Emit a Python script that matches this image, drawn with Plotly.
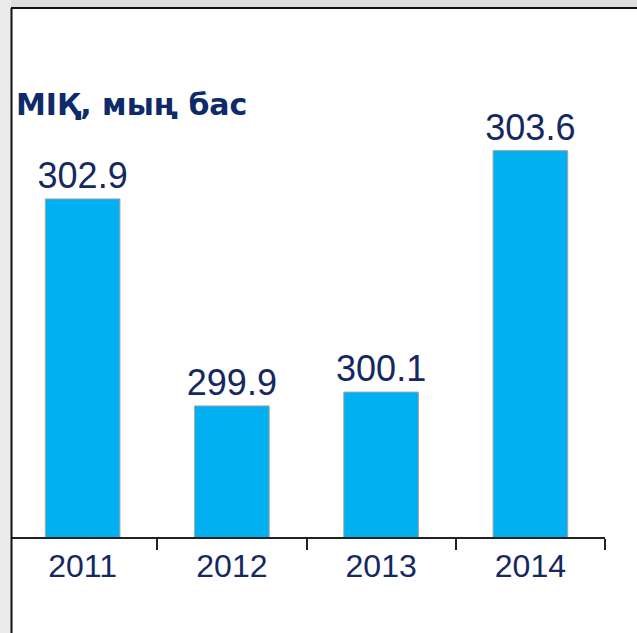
import plotly.graph_objects as go

years = ["2011", "2012", "2013", "2014"]
values = [302.9, 299.9, 300.1, 303.6]
value_labels = ["302.9", "299.9", "300.1", "303.6"]
title_text = "МІҚ, мың бас"

W, H = 637, 633
L, R, T, B = 8, 32, 60, 96
pw, ph = W - L - R, H - T - B

def px(x):
    return (x - L) / pw

def py(y):
    return (H - B - y) / ph

font_family = "Liberation Sans, Arial, sans-serif"
navy = "#15285f"

fig = go.Figure(go.Bar(
    x=years, y=values,
    text=value_labels, textposition="outside",
    textfont=dict(size=36, color=navy, family=font_family),
    constraintext="none",
    marker=dict(color="#00b0f0", line=dict(color="#a6a6a6", width=1)),
    cliponaxis=False,
))

shapes = [
    dict(type="rect", xref="paper", yref="paper", x0=px(0), x1=px(W), y0=py(0), y1=py(7),
         fillcolor="#dedede", line=dict(width=0), layer="above"),
    dict(type="rect", xref="paper", yref="paper", x0=px(0), x1=px(11), y0=py(0), y1=py(H),
         fillcolor="#ebebeb", line=dict(width=0), layer="above"),
    dict(type="line", xref="paper", yref="paper", x0=px(11), x1=px(W), y0=py(8), y1=py(8),
         line=dict(color="#111111", width=2), layer="above"),
    dict(type="line", xref="paper", yref="paper", x0=px(11.5), x1=px(11.5), y0=py(8), y1=py(H),
         line=dict(color="#111111", width=2), layer="above"),
]

fig.update_layout(
    width=W, height=H,
    margin=dict(l=L, r=R, t=T, b=B),
    paper_bgcolor="white", plot_bgcolor="white",
    bargap=0.5,
    showlegend=False,
    shapes=shapes,
    annotations=[dict(text="<b>" + title_text + "</b>", xref="paper", yref="paper",
                      x=px(14), y=py(104), xanchor="left", yanchor="middle", showarrow=False,
                      font=dict(size=30, color="#0e2a6a", family="DejaVu Sans, sans-serif"))],
    xaxis=dict(showline=True, linecolor="#222222", linewidth=2, ticks="outside",
               tickson="boundaries", ticklen=11, tickwidth=2, tickcolor="#222222",
               tickfont=dict(size=32, color=navy, family=font_family), showgrid=False),
    yaxis=dict(range=[298, 298 + (H - B - T) / 69.0], visible=False, showgrid=False),
)

fig.write_html("out.html", config={"displayModeBar": False},
               post_script="document.body.style.margin='0';document.body.style.padding='0';")
